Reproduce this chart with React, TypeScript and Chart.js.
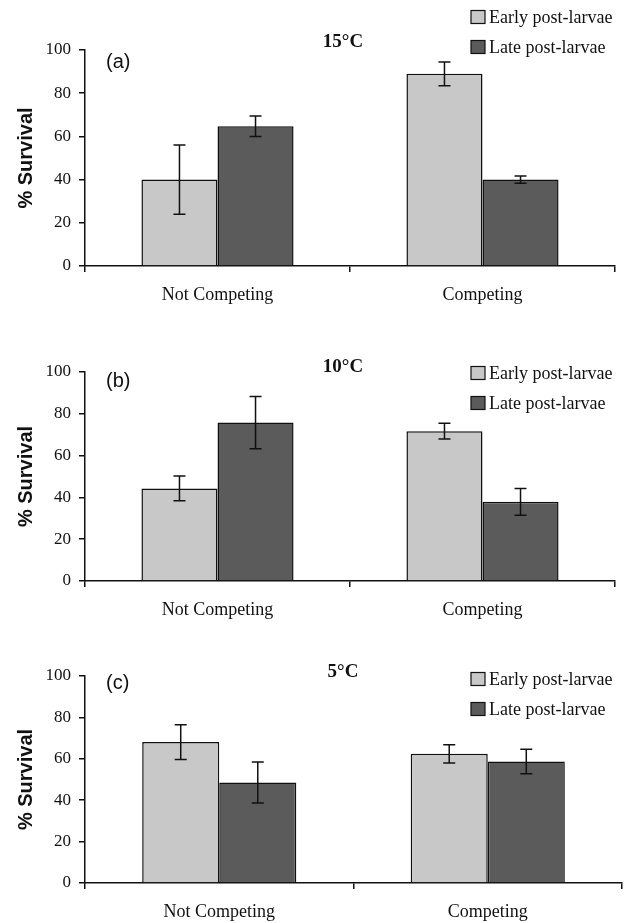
import React, { useEffect, useRef } from "react";
import { Chart, registerables } from "chart.js";

Chart.register(...registerables);

const categories = ["Not Competing", "Competing"];
const seriesLabels = ["Early post-larvae", "Late post-larvae"];
const temperatures = ["15°C", "10°C", "5°C"];
const panelLetters = ["(a)", "(b)", "(c)"];

const early15 = [40, 89];
const early15Err = [16, 5.5];
const late15 = [64.7, 40];
const late15Err = [4.8, 1.7];

const early10 = [44.3, 71.7];
const early10Err = [5.9, 3.8];
const late10 = [75.8, 37.9];
const late10Err = [12.5, 6.4];

const early5 = [68.1, 62.4];
const early5Err = [8.4, 4.4];
const late5 = [48.5, 58.7];
const late5Err = [9.9, 5.9];

const yMin = 0;
const yMax = 100;
const yStep = 20;

const EARLY_COLOR = "#c8c8c8";
const LATE_COLOR = "#5b5b5b";

type PanelCfg = {
  top: number;
  canvasH: number;
  areaTop: number;
  areaBottom: number;
  areaRight: number;
  legendY: number[];
  titleY: number;
  letterY: number;
  early: number[];
  earlyErr: number[];
  late: number[];
  lateErr: number[];
  temp: string;
  letter: string;
};

const panels: PanelCfg[] = [
  {
    top: 0, canvasH: 310, areaTop: 50, areaBottom: 266, areaRight: 615,
    legendY: [17, 47], titleY: 42, letterY: 62,
    early: early15, earlyErr: early15Err, late: late15, lateErr: late15Err,
    temp: temperatures[0], letter: panelLetters[0],
  },
  {
    top: 310, canvasH: 310, areaTop: 62, areaBottom: 271, areaRight: 615,
    legendY: [63, 93], titleY: 57, letterY: 71,
    early: early10, earlyErr: early10Err, late: late10, lateErr: late10Err,
    temp: temperatures[1], letter: panelLetters[1],
  },
  {
    top: 620, canvasH: 303, areaTop: 56, areaBottom: 263, areaRight: 622,
    legendY: [59, 89], titleY: 52, letterY: 63,
    early: early5, earlyErr: early5Err, late: late5, lateErr: late5Err,
    temp: temperatures[2], letter: panelLetters[2],
  },
];

function Panel({ cfg }: { cfg: PanelCfg }) {
  const ref = useRef<HTMLCanvasElement | null>(null);
  useEffect(() => {
    if (!ref.current) return;
    const errs = [cfg.earlyErr, cfg.lateErr];
    const errorBars = {
      id: "errorBars",
      afterDatasetsDraw(chart: any) {
        const ctx = chart.ctx;
        const ys = chart.scales.y;
        ctx.save();
        ctx.strokeStyle = "#111";
        ctx.lineWidth = 1.5;
        chart.data.datasets.forEach((ds: any, i: number) => {
          const meta = chart.getDatasetMeta(i);
          meta.data.forEach((el: any, j: number) => {
            const v = ds.data[j];
            const e = errs[i][j];
            const x = el.x;
            const yH = ys.getPixelForValue(v + e);
            const yL = ys.getPixelForValue(v - e);
            ctx.beginPath();
            ctx.moveTo(x, yH);
            ctx.lineTo(x, yL);
            ctx.moveTo(x - 6, yH);
            ctx.lineTo(x + 6, yH);
            ctx.moveTo(x - 6, yL);
            ctx.lineTo(x + 6, yL);
            ctx.stroke();
          });
        });
        ctx.restore();
      },
    };
    const decorations = {
      id: "decorations",
      afterDraw(chart: any) {
        const ctx = chart.ctx;
        ctx.save();
        ctx.fillStyle = "#111";
        ctx.font = "bold 19px 'Liberation Serif', serif";
        ctx.textAlign = "center";
        ctx.textBaseline = "middle";
        ctx.fillText(cfg.temp, 343, cfg.titleY);
        ctx.font = "20px 'Liberation Sans', sans-serif";
        ctx.textAlign = "left";
        ctx.fillText(cfg.letter, 106, cfg.letterY);
        chart.data.datasets.forEach((ds: any, i: number) => {
          const y = cfg.legendY[i];
          ctx.fillStyle = ds.backgroundColor;
          ctx.fillRect(471, y - 6.5, 14, 13);
          ctx.strokeStyle = "#111";
          ctx.lineWidth = 1.2;
          ctx.strokeRect(471, y - 6.5, 14, 13);
          ctx.fillStyle = "#111";
          ctx.font = "18px 'Liberation Serif', serif";
          ctx.textAlign = "left";
          ctx.textBaseline = "middle";
          ctx.fillText(ds.label, 489, y + 1);
        });
        ctx.restore();
      },
    };
    const chart = new Chart(ref.current, {
      type: "bar",
      data: {
        labels: categories,
        datasets: [
          {
            label: seriesLabels[0],
            data: cfg.early,
            backgroundColor: EARLY_COLOR,
            borderColor: "#111",
            borderWidth: 1.5,
            categoryPercentage: 0.574,
            barPercentage: 1,
          },
          {
            label: seriesLabels[1],
            data: cfg.late,
            backgroundColor: LATE_COLOR,
            borderColor: "#111",
            borderWidth: 1.5,
            categoryPercentage: 0.574,
            barPercentage: 1,
          },
        ],
      },
      options: {
        responsive: false,
        animation: false,
        devicePixelRatio: 1,
        layout: {
          padding: { top: cfg.areaTop, right: 625 - cfg.areaRight, bottom: 0, left: 0 },
        },
        plugins: {
          legend: { display: false },
          title: { display: false },
          tooltip: { enabled: false },
        },
        scales: {
          x: {
            offset: true,
            afterFit(scale: any) {
              scale.height = cfg.canvasH - cfg.areaBottom;
            },
            grid: {
              offset: true,
              drawOnChartArea: false,
              drawTicks: true,
              tickLength: 6,
              color: "#111",
              lineWidth: 1.5,
            },
            border: { display: true, color: "#111", width: 1.5 },
            ticks: {
              color: "#111",
              padding: 12,
              font: { family: "'Liberation Serif', serif", size: 18 },
            },
          },
          y: {
            min: yMin,
            max: yMax,
            afterFit(scale: any) {
              scale.width = 85;
            },
            grid: {
              drawOnChartArea: false,
              drawTicks: true,
              tickLength: 6,
              color: "#111",
              lineWidth: 1.5,
            },
            border: { display: true, color: "#111", width: 1.5 },
            ticks: {
              stepSize: yStep,
              color: "#111",
              padding: 8,
              font: { family: "'Liberation Serif', serif", size: 17 },
            },
            title: {
              display: true,
              text: "% Survival",
              color: "#111",
              padding: { top: 14, bottom: 0 },
              font: { family: "'Liberation Sans', sans-serif", size: 20, weight: "bold" },
            },
          },
        },
      },
      plugins: [errorBars, decorations],
    });
    return () => chart.destroy();
  }, [cfg]);
  return (
    <div style={{ position: "absolute", left: 0, top: cfg.top, width: 625, height: cfg.canvasH }}>
      <canvas ref={ref} width={625} height={cfg.canvasH} style={{ display: "block" }} />
    </div>
  );
}

export default function App() {
  useEffect(() => {
    document.body.style.margin = "0";
    document.body.style.background = "#fff";
  }, []);
  return (
    <div style={{ position: "relative", width: 625, height: 923, background: "#fff" }}>
      {panels.map((p, i) => (
        <Panel key={i} cfg={p} />
      ))}
    </div>
  );
}
